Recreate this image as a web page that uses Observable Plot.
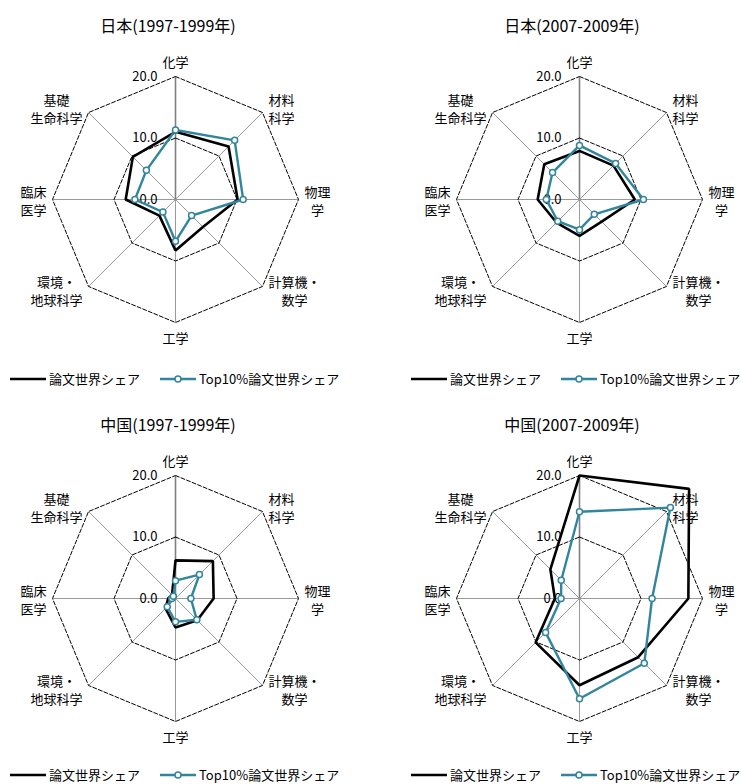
<!DOCTYPE html>
<html><head><meta charset="utf-8">
<script src="https://cdn.jsdelivr.net/npm/d3@7"></script>
<script src="https://cdn.jsdelivr.net/npm/@observablehq/plot@0.6"></script>
<style>
html,body{margin:0;padding:0;background:#fff;width:741px;height:784px;overflow:hidden;font-family:"Noto Sans CJK JP",sans-serif;}
#root{position:relative;width:741px;height:784px;overflow:hidden;background:#fff;}
.title{position:absolute;font-size:16px;line-height:20px;text-align:center;width:300px;color:#000;}
.ltext{position:absolute;font-size:13px;line-height:14px;white-space:nowrap;color:#000;}
.sw{position:absolute;}
.panel{position:absolute;}
</style></head><body><div id="root"></div>
<script>
// ---- data ----
const categories = ["化学","材料科学","物理学","計算機・数学","工学","環境・地球科学","臨床医学","基礎生命科学"];
const categoryLabels = ["化学","材料\n科学","物理\n学","計算機・\n数学","工学","環境・\n地球科学","臨床\n医学","基礎\n生命科学"];
const gridLevels = [10, 20];
const tickValues = [0, 10, 20];
const seriesNames = ["論文世界シェア", "Top10%論文世界シェア"];
const panelTitles = ["日本(1997-1999年)", "日本(2007-2009年)", "中国(1997-1999年)", "中国(2007-2009年)"];

const jp1997Share = [11.0, 12.2, 10.1, 6.3, 8.3, 3.7, 8.1, 9.8];
const jp1997Top10 = [11.3, 13.6, 11.0, 3.7, 6.8, 2.9, 6.6, 6.7];
const jp2007Share = [7.9, 7.8, 9.0, 5.1, 5.9, 5.3, 6.8, 8.1];
const jp2007Top10 = [8.8, 8.3, 10.4, 3.4, 4.9, 5.0, 5.4, 6.2];
const cn1997Share = [6.2, 8.6, 6.2, 5.0, 4.7, 2.3, 1.2, 0.8];
const cn1997Top10 = [2.9, 5.5, 2.5, 4.9, 3.8, 1.9, 0.6, 0.5];
const cn2007Share = [20.0, 25.2, 17.7, 13.5, 14.1, 10.1, 4.0, 6.7];
const cn2007Top10 = [14.1, 20.9, 11.8, 14.9, 16.3, 7.8, 3.0, 4.2];

const panelShare = [jp1997Share, jp2007Share, cn1997Share, cn2007Share];
const panelTop10 = [jp1997Top10, jp2007Top10, cn1997Top10, cn2007Top10];

// ---- styling / layout ----
const BLACK = "#000000";
const TEAL = "#31859c";
const FONT = "'Noto Sans CJK JP', 'Noto Sans', sans-serif";
const PX = 6.15;            // pixels per unit
const colX = [0, 404];
const rowY = [0, 399];
const svgTop = 40, svgH = 330, cx = 175, cy = 159;

const root = document.getElementById("root");
const n = categories.length;
const ang = i => i * 2 * Math.PI / n;

function polar(vals) {
  return vals.map((v, i) => ({cat: categories[i], x: v * Math.sin(ang(i)), y: v * Math.cos(ang(i))}));
}

function labelPos(i) {
  const t = ang(i);
  const s = Math.sin(t), c = Math.cos(t);
  const ex = 20 * s, ey = 20 * c;
  const lines = categoryLabels[i].split("\n");
  const hw = Math.max(...lines.map(l => l.length)) * 13 / 2;
  const sx = Math.abs(s) < 1e-6 ? 0 : Math.sign(s);
  const sy = Math.abs(c) < 1e-6 ? 0 : Math.sign(c);
  let lx, ly;
  if (sx === 0) { lx = 0; ly = ey + sy * 15 / PX; }
  else if (sy === 0) { lx = ex + sx * (hw + 6) / PX; ly = ey - 1 / PX; }
  else { lx = ex + sx * (hw + 6) / PX; ly = ey + sy * 4 / PX; }
  return {x: lx, y: ly, text: categoryLabels[i]};
}

function panel(p) {
  const col = p % 2, row = Math.floor(p / 2);
  const ox = colX[col], oy = rowY[row];
  const W = col === 0 ? 370 : 337;
  const share = polar(panelShare[p]);
  const top10 = polar(panelTop10[p]);
  const rings = gridLevels.map(r => polar(categories.map(() => r)));
  const spokes = categories.map((c, i) => ({x: 20 * Math.sin(ang(i)), y: 20 * Math.cos(ang(i)), i}));
  const labels = categories.map((c, i) => labelPos(i));

  const chart = Plot.plot({
    width: W, height: svgH,
    marginTop: 0, marginBottom: 0, marginLeft: 0, marginRight: 0,
    x: {domain: [-cx / PX, (W - cx) / PX], axis: null},
    y: {domain: [-(svgH - cy) / PX, cy / PX], axis: null},
    style: {fontFamily: FONT, background: "transparent", overflow: "visible"},
    marks: [
      Plot.link(spokes, {x1: 0, y1: 0, x2: "x", y2: "y", stroke: d => d.i === 0 ? "#808080" : "#999999", strokeWidth: d => d.i === 0 ? 1.6 : 1}),
      ...rings.map(ring => Plot.line(ring, {x: "x", y: "y", curve: "linear-closed", stroke: "#000", strokeWidth: 1, strokeDasharray: "4,2"})),
      Plot.text(tickValues, {x: 0, y: d => d, text: d => d3.format(".1f")(d), textAnchor: "end", dx: -18, fontSize: 13, fill: "#000"}),
      Plot.line(share, {x: "x", y: "y", curve: "linear-closed", stroke: BLACK, strokeWidth: 2.6, strokeLinejoin: "miter"}),
      Plot.line(top10, {x: "x", y: "y", curve: "linear-closed", stroke: TEAL, strokeWidth: 2.4, strokeLinejoin: "miter"}),
      Plot.dot(top10, {x: "x", y: "y", r: 3, fill: "#fff", stroke: TEAL, strokeWidth: 1.5}),
      Plot.text(labels, {x: "x", y: "y", text: "text", textAnchor: "middle", lineAnchor: "middle", lineHeight: 1.38, fontSize: 13, fill: "#000"})
    ]
  });
  chart.classList.add("panel");
  chart.style.left = ox + "px";
  chart.style.top = (oy + svgTop) + "px";
  root.appendChild(chart);

  const title = document.createElement("div");
  title.className = "title";
  title.textContent = panelTitles[p];
  title.style.left = (ox + cx - 7 - 150) + "px";
  title.style.top = (oy + 15) + "px";
  root.appendChild(title);

  // legend
  const ly = oy + (row === 0 ? 379 : 376);
  const shift = col === 0 ? 0 : -3;
  const items = [
    {x: 10 + shift, tx: 49 + shift, color: BLACK, dot: false, name: seriesNames[0]},
    {x: 160 + shift, tx: 199 + shift, color: TEAL, dot: true, name: seriesNames[1]}
  ];
  items.forEach(it => {
    const ns = "http://www.w3.org/2000/svg";
    const s = document.createElementNS(ns, "svg");
    s.setAttribute("width", 36); s.setAttribute("height", 10);
    s.setAttribute("class", "sw");
    s.style.left = (ox + it.x) + "px"; s.style.top = (ly - 5) + "px";
    const l = document.createElementNS(ns, "line");
    l.setAttribute("x1", 0); l.setAttribute("x2", 36); l.setAttribute("y1", 5); l.setAttribute("y2", 5);
    l.setAttribute("stroke", it.color); l.setAttribute("stroke-width", it.dot ? 2.4 : 2.6);
    s.appendChild(l);
    if (it.dot) {
      const c = document.createElementNS(ns, "circle");
      c.setAttribute("cx", 18); c.setAttribute("cy", 5); c.setAttribute("r", 3);
      c.setAttribute("fill", "#fff"); c.setAttribute("stroke", it.color); c.setAttribute("stroke-width", 1.5);
      s.appendChild(c);
    }
    root.appendChild(s);
    const t = document.createElement("div");
    t.className = "ltext";
    t.textContent = it.name;
    t.style.left = (ox + it.tx) + "px";
    t.style.top = (ly - 7) + "px";
    root.appendChild(t);
  });
}

for (let p = 0; p < 4; p++) panel(p);
</script>
</body></html>
